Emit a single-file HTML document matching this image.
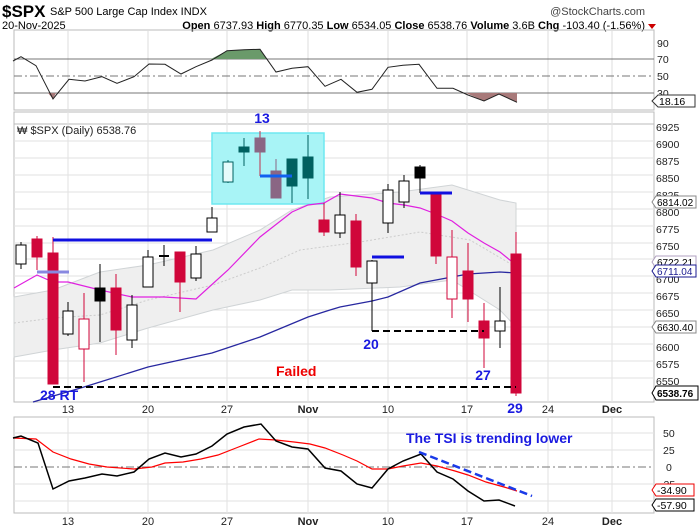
<!DOCTYPE html><html><head><meta charset="utf-8"><style>body{margin:0;background:#fff}svg{display:block;font-family:"Liberation Sans",sans-serif}</style></head><body>
<svg width="699" height="532" viewBox="0 0 699 532" xmlns="http://www.w3.org/2000/svg">
<rect width="699" height="532" fill="#fff"/>
<text x="2" y="17" font-size="17" font-weight="bold">$SPX</text>
<text x="50" y="15" font-size="11">S&amp;P 500 Large Cap Index  INDX</text>
<text x="645" y="15" font-size="11" fill="#444" text-anchor="end">@StockCharts.com</text>
<text x="2" y="29" font-size="11">20-Nov-2025</text>
<text x="645" y="29" font-size="11" text-anchor="end"><tspan font-weight="bold">Open</tspan> 6737.93 <tspan font-weight="bold">High</tspan> 6770.35 <tspan font-weight="bold">Low</tspan> 6534.05 <tspan font-weight="bold">Close</tspan> 6538.76 <tspan font-weight="bold">Volume</tspan> 3.6B <tspan font-weight="bold">Chg</tspan> -103.40 (-1.56%)</text>
<path d="M648 24 L656 24 L652 29Z" fill="#c00"/>
<!-- RSI panel -->
<rect x="14" y="30" width="640" height="80" fill="none" stroke="#bbb"/>
<g stroke="#ddd"><line x1="68" y1="30" x2="68" y2="110"/><line x1="148" y1="30" x2="148" y2="110"/><line x1="227" y1="30" x2="227" y2="110"/><line x1="308" y1="30" x2="308" y2="110"/><line x1="388" y1="30" x2="388" y2="110"/><line x1="467" y1="30" x2="467" y2="110"/><line x1="548" y1="30" x2="548" y2="110"/><line x1="612" y1="30" x2="612" y2="110"/></g>
<line x1="14" y1="59" x2="654" y2="59" stroke="#777"/>
<line x1="14" y1="93" x2="654" y2="93" stroke="#777"/>
<line x1="14" y1="76" x2="654" y2="76" stroke="#777" stroke-dasharray="8,3,2,3"/>
<path d="M211 59 L227 50.7 L244 49.7 L260 49.3 L267 59Z" fill="#6a9a6a"/>
<path d="M466 93 L484 101 L499 94 L517 102 L517 93Z" fill="#a87a7a"/>
<path d="M48 93 L53 99 L56 93Z" fill="#a87a7a"/>
<polyline fill="none" stroke="#222" stroke-width="1" points="13,61 21,56.7 36,65.7 53,99 69,79.3 85,81 102,76.7 117,83.3 134,76.7 149,64 165,64.3 181,74 196,66.7 212,60 227,50.7 244,49.7 260,49.3 276,72 292,68.3 308,66.7 325,86.3 341,79.3 357,92.3 372,89.3 388,67.3 403,65.3 419,64.3 437,88.3 453,88.3 468,95 484,101 499,94 517,102.3"/>
<g font-size="10.5" fill="#222"><text x="657" y="47">90</text><text x="657" y="63">70</text><text x="657" y="80">50</text><text x="657" y="97">30</text></g>
<path d="M652 101 L658 95 L695 95 L695 107 L658 107Z" fill="#fff" stroke="#333"/>
<text x="659" y="105" font-size="10.5">18.16</text>
<!-- Main panel -->
<rect x="14" y="112" width="640" height="290" fill="none" stroke="#bbb"/>
<g stroke="#e2e2e2">
<line x1="14" y1="124" x2="654" y2="124" stroke="#bbb"/><line x1="14" y1="141" x2="654" y2="141"/><line x1="14" y1="158" x2="654" y2="158"/><line x1="14" y1="175" x2="654" y2="175"/><line x1="14" y1="192" x2="654" y2="192"/><line x1="14" y1="209" x2="654" y2="209"/><line x1="14" y1="226" x2="654" y2="226"/><line x1="14" y1="243" x2="654" y2="243"/><line x1="14" y1="259" x2="654" y2="259"/><line x1="14" y1="276" x2="654" y2="276"/><line x1="14" y1="293" x2="654" y2="293"/><line x1="14" y1="310" x2="654" y2="310"/><line x1="14" y1="327" x2="654" y2="327"/><line x1="14" y1="344" x2="654" y2="344"/><line x1="14" y1="361" x2="654" y2="361"/><line x1="14" y1="378" x2="654" y2="378"/>
<line x1="68" y1="112" x2="68" y2="402"/><line x1="148" y1="112" x2="148" y2="402"/><line x1="227" y1="112" x2="227" y2="402"/><line x1="308" y1="112" x2="308" y2="402"/><line x1="388" y1="112" x2="388" y2="402"/><line x1="467" y1="112" x2="467" y2="402"/><line x1="548" y1="112" x2="548" y2="402"/><line x1="612" y1="112" x2="612" y2="402"/></g>
<!-- bollinger -->
<path d="M14 297 L53 290 L100 272 L148 265 L213 250 L260 230 L292 210 L330 197 L400 192 L452 185 L500 200 L516 203 L516 327 L500 310 L452 280 L400 287 L330 290 L292 290 L260 300 L213 310 L148 328 L100 343 L53 350 L14 357Z" fill="#efefef" stroke="#d0d4d6"/>
<polyline fill="none" stroke="#ccc" stroke-dasharray="2,2" points="14,323 53,318 100,315 148,300 213,285 260,268 300,250 360,242 420,232 470,240 516,267"/>
<rect x="212" y="133" width="112" height="71" fill="#a8f4f6" stroke="#6ee8f0" stroke-width="1.5"/>
<polyline fill="none" stroke="#e020e0" stroke-width="1.2" points="14,288 37,275 53,282 68,282 100,290 132,297 164,297 196,299 228,270 260,237 292,212 308,205 324,203 340,194 356,196 372,198 388,203 404,205 420,208 436,214 452,221 468,233 484,243 500,252 516,265"/>
<polyline fill="none" stroke="#2828a0" stroke-width="1.3" points="33,402 84,387 148,367 212,353 260,337 308,317 330,310 340,307 372,301 388,297 420,283 452,277 468,274 500,272 516,273"/>
<!-- candles -->
<g stroke-width="1">
<g stroke="#000" fill="#fff">
<line x1="21" y1="242" x2="21" y2="269"/><rect x="16" y="245" width="10" height="19"/>
<line x1="68" y1="302" x2="68" y2="336"/><rect x="63" y="311" width="10" height="23"/>
<line x1="100" y1="264" x2="100" y2="342"/><rect x="95" y="288" width="10" height="13" fill="#000"/>
<line x1="132" y1="295" x2="132" y2="348"/><rect x="127" y="305" width="10" height="35"/>
<line x1="148" y1="250" x2="148" y2="287"/><rect x="143" y="257" width="10" height="30"/>
<line x1="164" y1="245" x2="164" y2="266"/><line x1="159" y1="256" x2="169" y2="256" stroke-width="2"/>
<line x1="196" y1="246" x2="196" y2="281"/><rect x="191" y="254" width="10" height="24"/>
<line x1="212" y1="207" x2="212" y2="232"/><rect x="207" y="218" width="10" height="14"/>
<line x1="340" y1="192" x2="340" y2="238"/><rect x="335" y="215" width="10" height="18"/>
<line x1="372" y1="260" x2="372" y2="331"/><rect x="367" y="261" width="10" height="22"/>
<line x1="388" y1="184" x2="388" y2="233"/><rect x="383" y="190" width="10" height="33"/>
<line x1="404" y1="175" x2="404" y2="208"/><rect x="399" y="181" width="10" height="21"/>
<line x1="420" y1="165" x2="420" y2="193"/><rect x="415" y="167" width="10" height="11" fill="#000"/>
<line x1="500" y1="287" x2="500" y2="348"/><rect x="495" y="321" width="10" height="10"/>
</g>
<g stroke="#d0063a" fill="#d0063a">
<line x1="37" y1="236" x2="37" y2="270"/><rect x="32" y="239" width="10" height="18"/>
<line x1="53" y1="237" x2="53" y2="384"/><rect x="48" y="253" width="10" height="131"/>
<line x1="84" y1="293" x2="84" y2="382"/><rect x="79" y="319" width="10" height="30" fill="#fff"/>
<line x1="116" y1="274" x2="116" y2="355"/><rect x="111" y="288" width="10" height="42"/>
<line x1="180" y1="252" x2="180" y2="312"/><rect x="175" y="252" width="10" height="30"/>
<line x1="324" y1="203" x2="324" y2="236"/><rect x="319" y="220" width="10" height="12"/>
<line x1="356" y1="214" x2="356" y2="276"/><rect x="351" y="221" width="10" height="46"/>
<line x1="436" y1="195" x2="436" y2="264"/><rect x="431" y="195" width="10" height="61"/>
<line x1="452" y1="230" x2="452" y2="318"/><rect x="447" y="257" width="10" height="42" fill="#fff"/>
<line x1="468" y1="243" x2="468" y2="322"/><rect x="463" y="271" width="10" height="28"/>
<line x1="484" y1="303" x2="484" y2="368"/><rect x="479" y="321" width="10" height="17"/>
<line x1="516" y1="232" x2="516" y2="396"/><rect x="511" y="254" width="10" height="139"/>
</g>
<g stroke="#006060" fill="#006060">
<line x1="228" y1="160" x2="228" y2="183"/><rect x="223" y="162" width="10" height="20" fill="#e6fbfb"/>
<line x1="244" y1="138" x2="244" y2="166"/><rect x="239" y="147" width="10" height="5"/>
<line x1="292" y1="159" x2="292" y2="203"/><rect x="287" y="159" width="10" height="27"/>
<line x1="308" y1="135" x2="308" y2="199"/><rect x="303" y="157" width="10" height="21"/>
</g>
<g stroke="#8a6684" fill="#8a6684">
<line x1="260" y1="131" x2="260" y2="176" stroke="#c0304a"/><rect x="255" y="138" width="10" height="14"/>
<line x1="276" y1="159" x2="276" y2="198"/><rect x="271" y="171" width="10" height="27"/>
</g>
</g>
<!-- annotations -->
<g stroke-width="3">
<line x1="53" y1="240" x2="212" y2="240" stroke="#1010e0"/>
<line x1="37" y1="272" x2="69" y2="272" stroke="#8888e0"/>
<line x1="260" y1="176" x2="292" y2="176" stroke="#1060f0"/>
<line x1="372" y1="257" x2="404" y2="257" stroke="#1010e0"/>
<line x1="420" y1="193" x2="452" y2="193" stroke="#1010e0"/>
</g>
<line x1="53" y1="387" x2="516" y2="387" stroke="#000" stroke-width="2" stroke-dasharray="7,4"/>
<line x1="372" y1="331" x2="484" y2="331" stroke="#000" stroke-width="2" stroke-dasharray="7,4"/>
<g font-weight="bold" font-size="14" fill="#1a1ae0">
<text x="262" y="123" text-anchor="middle">13</text>
<text x="40" y="400">28 RT</text>
<text x="371" y="349" text-anchor="middle">20</text>
<text x="483" y="380" text-anchor="middle">27</text>
<text x="515" y="413" text-anchor="middle">29</text>
</g>
<text x="276" y="376" font-weight="bold" font-size="14" fill="#e00">Failed</text>
<text x="17" y="134" font-size="11" fill="#222">₩ $SPX (Daily) 6538.76</text>
<g font-size="10.5" fill="#222">
<text x="656" y="131">6925</text><text x="656" y="148">6900</text><text x="656" y="165">6875</text><text x="656" y="182">6850</text><text x="656" y="199">6825</text><text x="656" y="216">6800</text><text x="656" y="233">6775</text><text x="656" y="250">6750</text><text x="656" y="283">6700</text><text x="656" y="300">6675</text><text x="656" y="317">6650</text><text x="656" y="351">6600</text><text x="656" y="368">6575</text><text x="656" y="385">6550</text>
</g>
<g font-size="10">
<path d="M652 202 L656 196 L696 196 L696 208 L656 208Z" fill="#fff" stroke="#888"/><text x="657" y="206">6814.02</text>
<path d="M652 262 L656 256 L696 256 L696 268 L656 268Z" fill="#fff" stroke="#b0a0c0"/><text x="657" y="266">6722.21</text>
<path d="M652 271 L656 265 L696 265 L696 277 L656 277Z" fill="#fff" stroke="#1a1a90"/><text x="657" y="275" fill="#1a1a90">6711.04</text>
<path d="M652 327 L656 321 L696 321 L696 333 L656 333Z" fill="#fff" stroke="#888"/><text x="657" y="331">6630.40</text>
<path d="M652 393 L656 386 L698 386 L698 400 L656 400Z" fill="#fff" stroke="#000"/><text x="657" y="397" font-weight="bold">6538.76</text>
</g>
<g font-size="11" fill="#222" text-anchor="middle">
<text x="68" y="413">13</text><text x="148" y="413">20</text><text x="227" y="413">27</text><text x="308" y="413" font-weight="bold">Nov</text><text x="388" y="413">10</text><text x="467" y="413">17</text><text x="548" y="413">24</text><text x="612" y="413" font-weight="bold">Dec</text>
</g>
<!-- TSI panel -->
<rect x="14" y="417" width="640" height="96" fill="none" stroke="#bbb"/>
<g stroke="#e2e2e2"><line x1="14" y1="433" x2="654" y2="433"/><line x1="14" y1="450" x2="654" y2="450"/><line x1="14" y1="484" x2="654" y2="484"/><line x1="14" y1="501" x2="654" y2="501"/>
<line x1="68" y1="417" x2="68" y2="513"/><line x1="148" y1="417" x2="148" y2="513"/><line x1="227" y1="417" x2="227" y2="513"/><line x1="308" y1="417" x2="308" y2="513"/><line x1="388" y1="417" x2="388" y2="513"/><line x1="467" y1="417" x2="467" y2="513"/><line x1="548" y1="417" x2="548" y2="513"/><line x1="612" y1="417" x2="612" y2="513"/></g>
<line x1="14" y1="467" x2="654" y2="467" stroke="#777" stroke-dasharray="8,3,2,3"/>
<polyline fill="none" stroke="#f00" stroke-width="1.2" points="13,438 36,439 53,452 71,459 89,464 107,467 134,469 152,467 165,463 183,462 201,459 218,455 236,448 259,439 276,440 294,442 310,444 325,448 343,455 357,461 372,469 388,469 403,466 421,463 437,466 455,471 468,475 486,482 504,487 517,491"/>
<polyline fill="none" stroke="#000" stroke-width="1.5" points="13,438 21,436 38,443 53,489 69,481 85,478 102,474 117,476 134,472 149,459 165,453 181,457 196,454 212,446 227,434 244,427 261,424 276,441 292,447 308,449 325,468 341,471 357,484 372,488 388,469 403,461 421,454 437,472 453,479 468,491 484,501 499,500 515,506"/>
<line x1="419" y1="452" x2="532" y2="496" stroke="#1a3ae8" stroke-width="2.5" stroke-dasharray="8,4"/>
<text x="406" y="443" font-weight="bold" font-size="14" fill="#1a1ae0">The TSI is trending lower</text>
<g font-size="10.5" fill="#222"><text x="663" y="437">50</text><text x="663" y="454">25</text><text x="666" y="471">0</text><text x="660" y="488">-25</text></g>
<path d="M652 490 L656 484 L694 484 L694 496 L656 496Z" fill="#fff" stroke="#e00"/><text x="657" y="494" font-size="10.5">-34.90</text>
<path d="M652 505 L656 499 L694 499 L694 511 L656 511Z" fill="#fff" stroke="#000"/><text x="657" y="509" font-size="10.5">-57.90</text>
<g font-size="11" fill="#222" text-anchor="middle">
<text x="68" y="525">13</text><text x="148" y="525">20</text><text x="227" y="525">27</text><text x="308" y="525" font-weight="bold">Nov</text><text x="388" y="525">10</text><text x="467" y="525">17</text><text x="548" y="525">24</text><text x="612" y="525" font-weight="bold">Dec</text>
</g>
</svg>
</body></html>
